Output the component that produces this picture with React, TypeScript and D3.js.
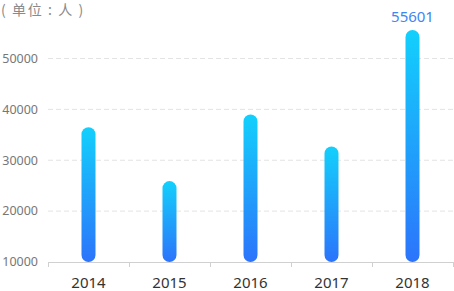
import React from "react";
import * as d3 from "d3";

const categories = ["2014", "2015", "2016", "2017", "2018"];
const values = [36500, 25900, 39000, 32700, 55601];
const yTicks = [10000, 20000, 30000, 40000, 50000];
const unitLabel = "( 单位 : 人 )";

const W = 454;
const H = 291;
const left = 48;
const right = 453;
const top = 7.6;
const bottom = 262;

export default function App() {
  const x = d3.scaleBand<string>().domain(categories).range([left, right]);
  const y = d3.scaleLinear().domain([10000, 60000]).range([bottom, top]);
  const barW = 14;
  const maxIdx = values.indexOf(d3.max(values) as number);
  return (
    <svg
      width={W}
      height={H}
      style={{ position: "absolute", left: 0, top: 0 }}
      fontFamily="'Noto Sans', 'Noto Sans CJK SC', sans-serif"
    >
      <defs>
        <linearGradient id="barGrad" x1="0" y1="0" x2="0" y2="1">
          <stop offset="0%" stopColor="#13d0fc" />
          <stop offset="100%" stopColor="#2c74fb" />
        </linearGradient>
      </defs>
      <text
        x={1}
        y={15}
        fontSize={14}
        fill="#8a8a8a"
        letterSpacing={1.6}
        fontFamily="'Noto Sans CJK SC', sans-serif"
        style={{ whiteSpace: "pre" }}
      >
        {unitLabel}
      </text>
      {yTicks.map((t) => (
        <g key={t}>
          {t !== 10000 && (
            <line
              x1={left}
              x2={right}
              y1={y(t)}
              y2={y(t)}
              stroke="#e3e3e3"
              strokeDasharray="5,3"
            />
          )}
          <text x={38} y={y(t)} dy="0.35em" fontSize={12.5} fill="#777" textAnchor="end">
            {t}
          </text>
        </g>
      ))}
      <line x1={left} x2={right} y1={bottom + 0.5} y2={bottom + 0.5} stroke="#d0d0d0" />
      {[...categories.map((c) => x(c) as number), right].map((tx, i) => (
        <line key={i} x1={tx + 0.5} x2={tx + 0.5} y1={bottom} y2={bottom + 5} stroke="#d0d0d0" />
      ))}
      {categories.map((c, i) => {
        const cx = (x(c) as number) + x.bandwidth() / 2;
        const yt = y(values[i]);
        return (
          <g key={c}>
            <rect
              x={cx - barW / 2}
              y={yt}
              width={barW}
              height={bottom - yt}
              rx={barW / 2}
              ry={barW / 2}
              fill="url(#barGrad)"
            />
            <text x={cx} y={288} fontSize={15} fill="#333" textAnchor="middle">
              {c}
            </text>
            {i === maxIdx && (
              <text x={cx} y={yt - 8} fontSize={15} fill="#3d86f5" textAnchor="middle">
                {values[i]}
              </text>
            )}
          </g>
        );
      })}
    </svg>
  );
}
